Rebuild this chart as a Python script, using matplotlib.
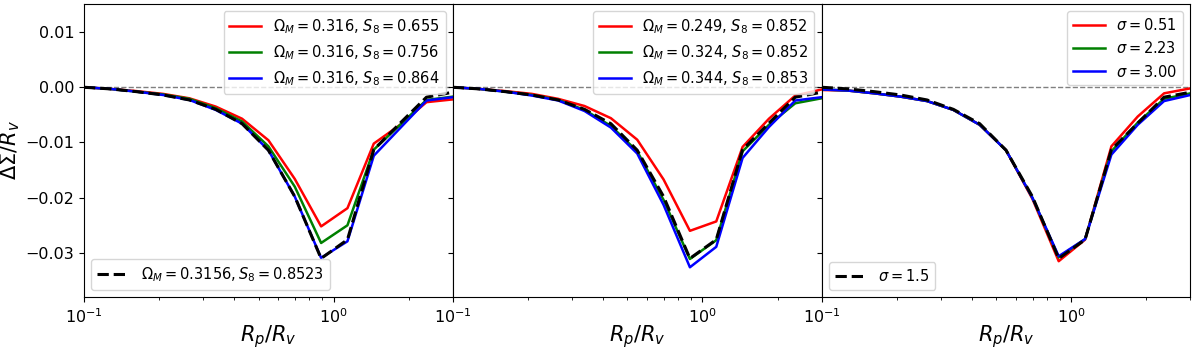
import numpy as np
import matplotlib.pyplot as plt

## Radial bins R_p/R_v (log spaced)
rp = [0.100, 0.1275, 0.1626, 0.2073, 0.2643, 0.3370, 0.4297, 0.5478,
      0.6985, 0.8906, 1.1355, 1.4478, 1.8459, 2.3535, 3.000]

## Fiducial model (black dashed, same in all panels)
fid = [0.0, -0.0003, -0.0008, -0.0014, -0.0023, -0.0040, -0.0066, -0.0114,
       -0.0198, -0.0310, -0.0276, -0.0113, -0.0065, -0.0018, -0.0009]

## Panel 1: varying S8
p1_labels = [r"$\Omega_M = 0.316$, $S_8 = 0.655$",
             r"$\Omega_M = 0.316$, $S_8 = 0.756$",
             r"$\Omega_M = 0.316$, $S_8 = 0.864$"]
p1_red = [0.0, -0.0003, -0.0007, -0.0012, -0.0020, -0.0035, -0.0057, -0.0096,
          -0.0166, -0.0252, -0.0219, -0.0102, -0.0068, -0.0027, -0.0022]
p1_green = [0.0, -0.0003, -0.0008, -0.0013, -0.0021, -0.0038, -0.0062, -0.0107,
            -0.0180, -0.0282, -0.0250, -0.0113, -0.0068, -0.0023, -0.0017]
p1_blue = [0.0, -0.0003, -0.0008, -0.0014, -0.0023, -0.0041, -0.0066, -0.0114,
           -0.0198, -0.0309, -0.0279, -0.0124, -0.0074, -0.0024, -0.0018]

## Panel 2: varying Omega_M
p2_labels = [r"$\Omega_M = 0.249$, $S_8 = 0.852$",
             r"$\Omega_M = 0.324$, $S_8 = 0.852$",
             r"$\Omega_M = 0.344$, $S_8 = 0.853$"]
p2_red = [0.0, -0.0003, -0.0007, -0.0012, -0.0021, -0.0034, -0.0056, -0.0095,
          -0.0167, -0.0260, -0.0243, -0.0108, -0.0057, -0.0015, -0.0004]
p2_green = [0.0, -0.0003, -0.0008, -0.0014, -0.0023, -0.0041, -0.0070, -0.0116,
            -0.0204, -0.0311, -0.0277, -0.0116, -0.0068, -0.0029, -0.0020]
p2_blue = [0.0, -0.0003, -0.0008, -0.0015, -0.0024, -0.0043, -0.0073, -0.0120,
           -0.0213, -0.0326, -0.0289, -0.0128, -0.0072, -0.0024, -0.0018]

## Panel 3: varying sigma
p3_labels = [r"$\sigma = 0.51$", r"$\sigma = 2.23$", r"$\sigma = 3.00$"]
p3_red = [-0.0005, -0.0006, -0.0011, -0.0017, -0.0025, -0.0041, -0.0068, -0.0114,
          -0.0202, -0.0315, -0.0276, -0.0107, -0.0053, -0.0011, -0.0002]
p3_green = [-0.0004, -0.0006, -0.0011, -0.0017, -0.0025, -0.0041, -0.0068, -0.0114,
            -0.0200, -0.0308, -0.0275, -0.0116, -0.0064, -0.0021, -0.0011]
p3_blue = [-0.0004, -0.0006, -0.0011, -0.0017, -0.0025, -0.0041, -0.0068, -0.0114,
           -0.0200, -0.0306, -0.0275, -0.0122, -0.0068, -0.0025, -0.0014]

fid_labels = [r"$\Omega_M = 0.3156, S_8 = 0.8523$", None, r"$\sigma = 1.5$"]

panels = [(p1_red, p1_green, p1_blue, p1_labels),
          (p2_red, p2_green, p2_blue, p2_labels),
          (p3_red, p3_green, p3_blue, p3_labels)]

fig, axes = plt.subplots(1, 3, figsize=(12, 3.52), dpi=100, sharey=True)
fig.subplots_adjust(left=0.07, right=0.992, top=0.989, bottom=0.156, wspace=0)

for i, ax in enumerate(axes):
    red, green, blue, labels = panels[i]
    ax.axhline(0, color="gray", ls="--", lw=1)
    l1, = ax.plot(rp, red, color="red", lw=1.8, label=labels[0])
    l2, = ax.plot(rp, green, color="green", lw=1.8, label=labels[1])
    l3, = ax.plot(rp, blue, color="blue", lw=1.8, label=labels[2])
    lf, = ax.plot(rp, fid, color="black", ls="--", lw=2.2)
    ax.set_xscale("log")
    ax.set_xlim(0.1, 3.0)
    ax.set_ylim(-0.038, 0.0151)
    ax.set_xlabel(r"$R_p/R_v$", fontsize=15)
    ax.xaxis.set_label_coords(0.5, -0.089)
    ax.tick_params(labelsize=11.5)
    leg = ax.legend(handles=[l1, l2, l3], loc="upper right", fontsize=10.5,
                    handlelength=2.2)
    if fid_labels[i] is not None:
        ax.add_artist(leg)
        ax.legend(handles=[lf], labels=[fid_labels[i]], loc="lower left",
                  fontsize=10.5, handlelength=2.2)

axes[0].set_ylabel(r"$\Delta\Sigma/R_v$", fontsize=15)
axes[0].yaxis.set_label_coords(-0.168, 0.5)
axes[0].set_yticks([-0.03, -0.02, -0.01, 0.0, 0.01])

fig.savefig("out.png")
